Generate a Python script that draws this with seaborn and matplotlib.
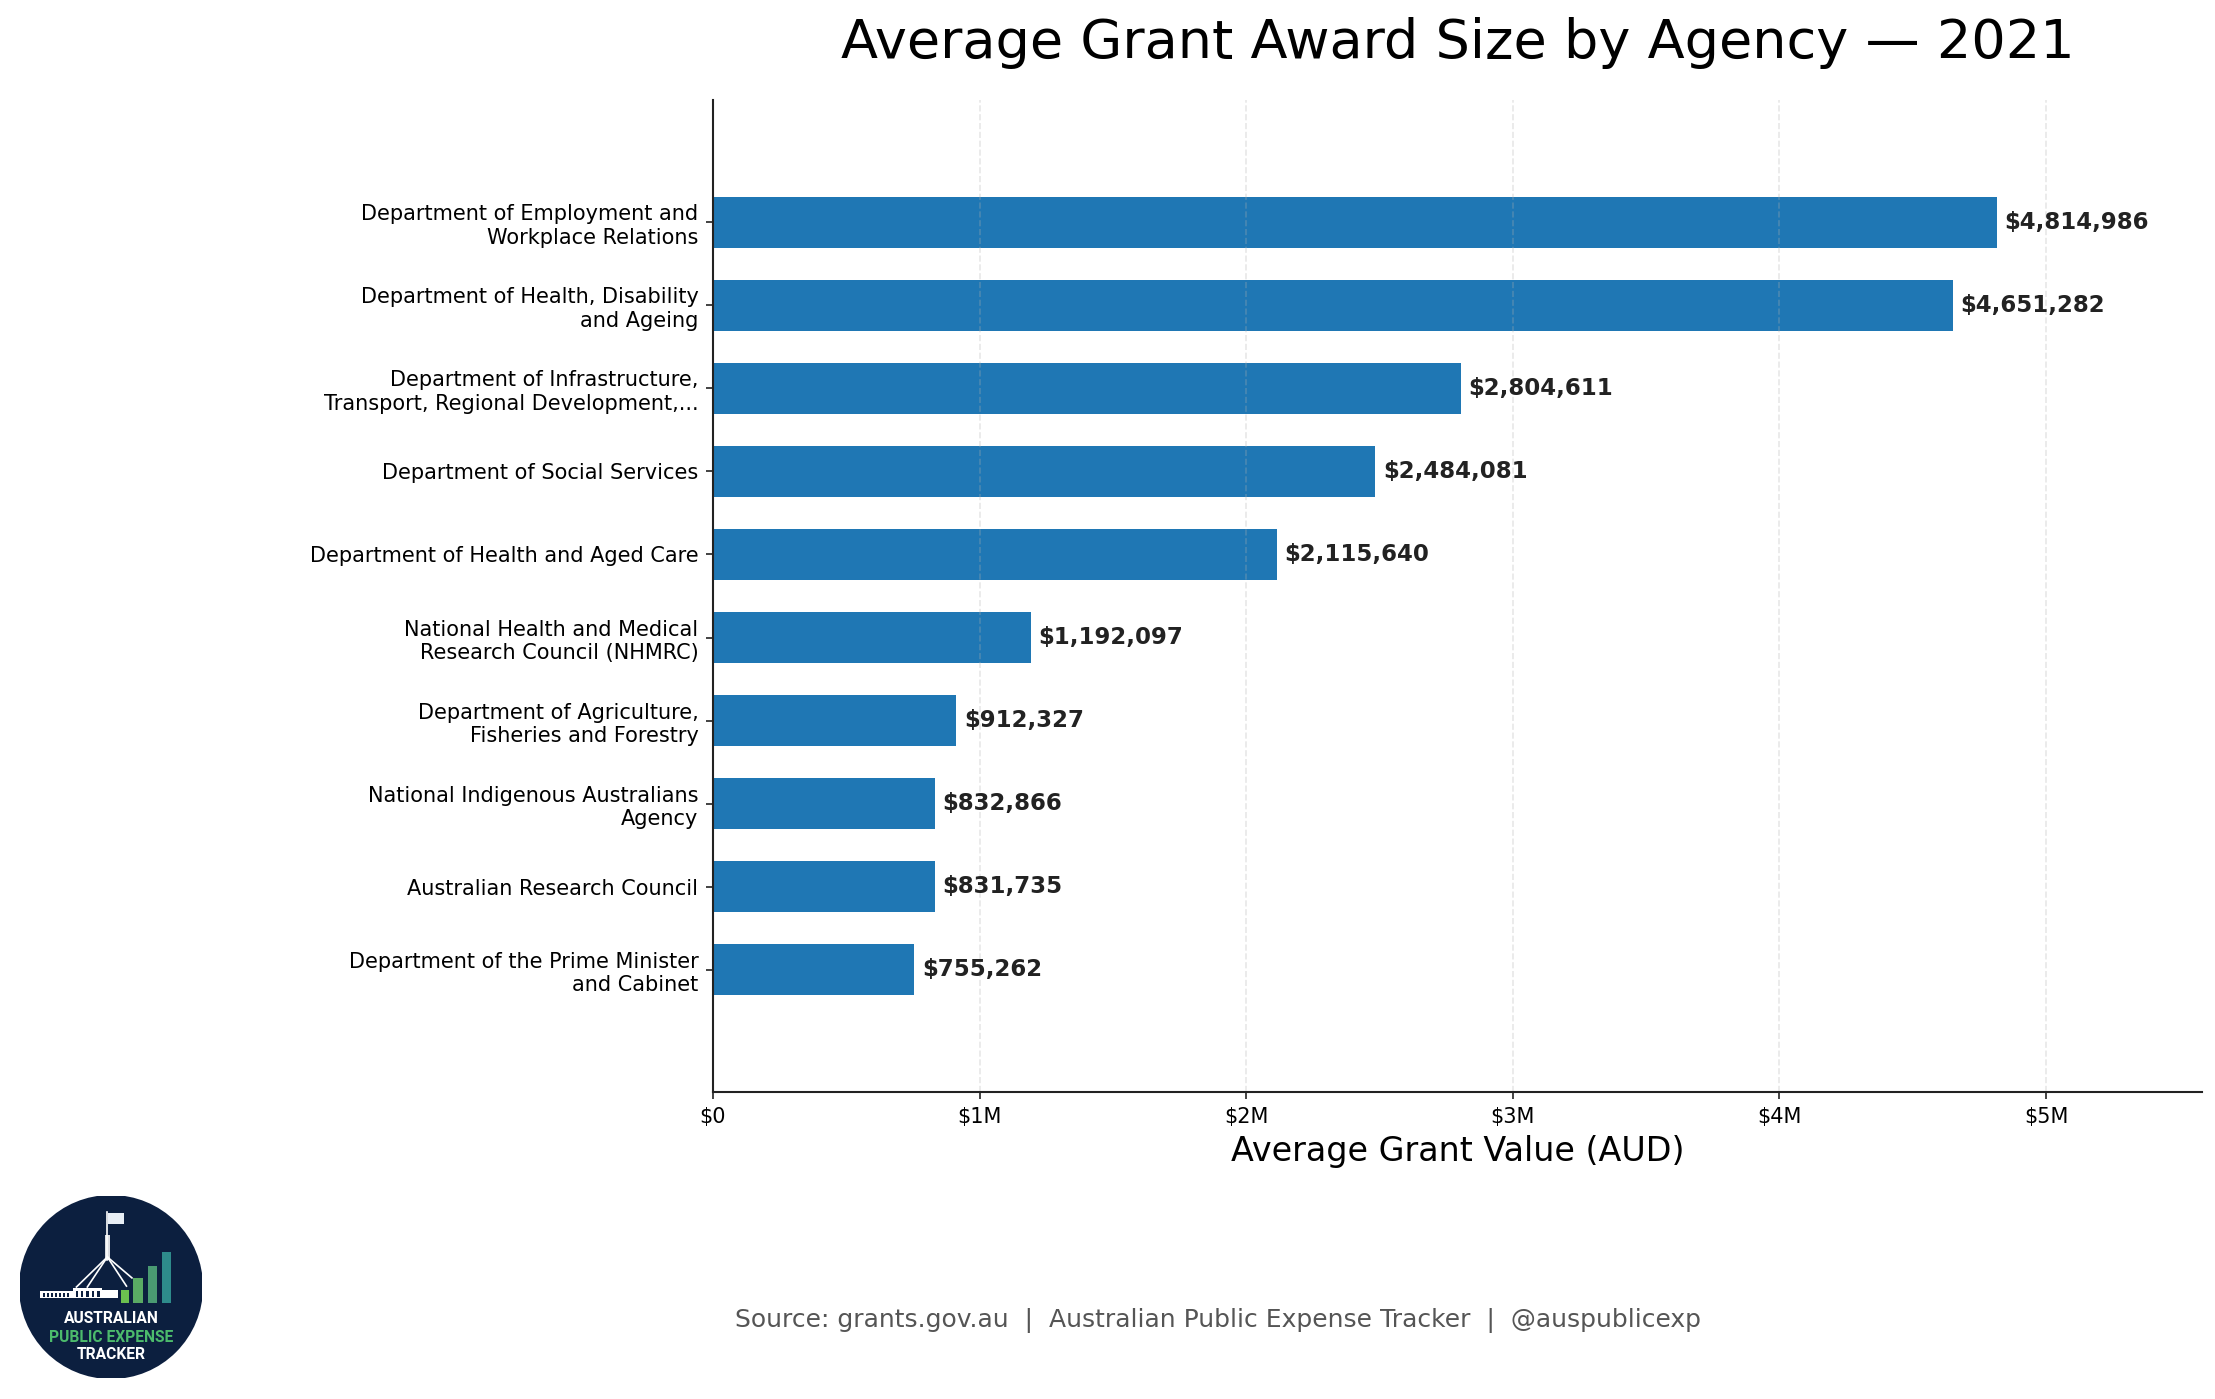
import matplotlib
matplotlib.use("Agg")
import matplotlib.pyplot as plt
from matplotlib.patches import Circle, Rectangle
from matplotlib.ticker import FuncFormatter
import seaborn as sns
import pandas as pd

# ---- data ----
agencies = [
    "Department of Employment and\nWorkplace Relations",
    "Department of Health, Disability\nand Ageing",
    "Department of Infrastructure,\nTransport, Regional Development,...",
    "Department of Social Services",
    "Department of Health and Aged Care",
    "National Health and Medical\nResearch Council (NHMRC)",
    "Department of Agriculture,\nFisheries and Forestry",
    "National Indigenous Australians\nAgency",
    "Australian Research Council",
    "Department of the Prime Minister\nand Cabinet",
]
avg_values = [4814986, 4651282, 2804611, 2484081, 2115640,
              1192097, 912327, 832866, 831735, 755262]

title_text = "Average Grant Award Size by Agency \u2014 2021"
xlabel_text = "Average Grant Value (AUD)"
source_text = "Source: grants.gov.au  |  Australian Public Expense Tracker  |  @auspublicexp"

df = pd.DataFrame({"agency": agencies, "value": avg_values})

plt.rcParams['font.family'] = ['DejaVu Sans']

W, H = 2215, 1399
DPI = 150
fig = plt.figure(figsize=(W / DPI, H / DPI), dpi=DPI)

ax_l, ax_r, ax_t, ax_b = 713, 2202, 100, 1092
ax = fig.add_axes([ax_l / W, 1 - ax_b / H, (ax_r - ax_l) / W, (ax_b - ax_t) / H])

sns.barplot(data=df, x="value", y="agency", orient="h", color="#1f77b4",
            saturation=1, width=0.62, ax=ax, order=agencies)

n = len(agencies)
ax.set_ylim(n - 1 + 1.475, -1.475)
vmax = max(avg_values)
ax.set_xlim(0, vmax * 1.16)

for i, v in enumerate(avg_values):
    ax.text(v + vmax * 0.006, i, f"${v:,.0f}", va="center", ha="left",
            fontsize=11, fontweight="bold", color="#222222")

ax.xaxis.set_major_formatter(FuncFormatter(lambda x, p: "$0" if x == 0 else f"${x/1e6:.0f}M"))
ax.tick_params(axis="y", labelsize=10)
ax.tick_params(axis="x", labelsize=10)
ax.set_ylabel("")
ax.set_xlabel(xlabel_text, fontsize=16)
ax.set_title(title_text, fontsize=26, pad=20)
ax.grid(axis="x", linestyle="--", alpha=0.3)
ax.grid(axis="y", visible=False)
for s in ["top", "right"]:
    ax.spines[s].set_visible(False)
for s in ["left", "bottom"]:
    ax.spines[s].set_color("#222222")
    ax.spines[s].set_linewidth(1.0)
ax.tick_params(color="#222222")

fig.text(1218 / W, 1 - 1327 / H, source_text, ha="center", va="baseline",
         fontsize=12, color="#555555")

# ---- logo ----
cx, cy, r = 111, 1287, 91
lax = fig.add_axes([(cx - r) / W, 1 - (cy + r) / H, 2 * r / W, 2 * r / H])
lax.set_xlim(-1, 1)
lax.set_ylim(-1, 1)
lax.set_aspect("equal")
lax.axis("off")
lax.add_patch(Circle((0, 0), 1, color="#0c1f3f"))
# flagpole
lax.plot([-0.04, -0.04], [0.30, 0.82], color="white", lw=0.8)
lax.add_patch(Rectangle((-0.065, 0.30), 0.05, 0.27, facecolor="white", edgecolor="none", alpha=0.85))
lax.add_patch(Rectangle((-0.035, 0.69), 0.18, 0.12, facecolor="#e8eef5", edgecolor="none"))
for (lx, ly) in [(-0.38, 0.0), (-0.26, 0.0), (0.17, 0.01), (0.23, 0.10)]:
    lax.plot([-0.04, lx], [0.33, ly], color="white", lw=0.8)
# building
lax.add_patch(Rectangle((-0.78, -0.125), 0.36, 0.08, facecolor="white", edgecolor="none"))
lax.add_patch(Rectangle((-0.42, -0.125), 0.32, 0.11, facecolor="white", edgecolor="none"))
lax.add_patch(Rectangle((-0.10, -0.125), 0.18, 0.09, facecolor="white", edgecolor="none"))
for k in range(7):
    lax.add_patch(Rectangle((-0.75 + k * 0.045, -0.105), 0.02, 0.04, facecolor="#0c1f3f", edgecolor="none"))
for k in range(5):
    lax.add_patch(Rectangle((-0.39 + k * 0.06, -0.11), 0.025, 0.07, facecolor="#0c1f3f", edgecolor="none"))
# bars
bar_specs = [(0.107, 0.096, 0.14, "#6cbf4f"), (0.247, 0.104, 0.27, "#5aaa64"),
             (0.402, 0.104, 0.40, "#4a9a72"), (0.557, 0.107, 0.557, "#2e8b8b")]
for bx, bw, bh, bc in bar_specs:
    lax.add_patch(Rectangle((bx, -0.173), bw, bh, facecolor=bc, edgecolor="none"))
logo_font = ["Roboto", "DejaVu Sans"]
lax.text(0, -0.35, "AUSTRALIAN", ha="center", va="center", color="white",
         fontsize=7.5, fontweight="bold", family=logo_font)
lax.text(0, -0.55, "PUBLIC EXPENSE", ha="center", va="center", color="#4cbb6c",
         fontsize=7.5, fontweight="bold", family=logo_font)
lax.text(0, -0.74, "TRACKER", ha="center", va="center", color="white",
         fontsize=7.5, fontweight="bold", family=logo_font)

fig.savefig("out.png", dpi=DPI)
